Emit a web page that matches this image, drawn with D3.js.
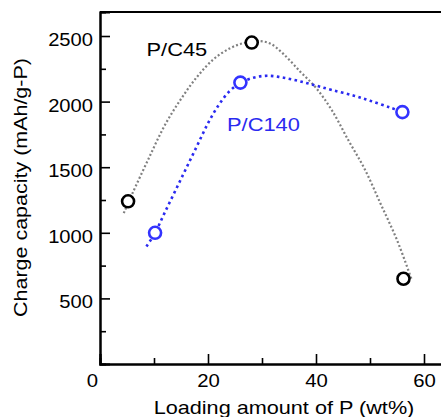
<!DOCTYPE html>
<html><head><meta charset="utf-8">
<script src="https://cdn.jsdelivr.net/npm/d3@7"></script>
<style>
html,body{margin:0;padding:0;background:#fff;}
svg{display:block;}
text{font-family:"Liberation Sans",Arial,sans-serif;}
</style></head>
<body><svg id="chart" width="441" height="417"></svg>
<script>
// ---- data ----
const seriesNames = ["P/C45", "P/C140"];
const pc45X = [5.2, 28.1, 56.2];
const pc45Y = [1240, 2450, 650];
const pc140X = [10.2, 26.0, 56.0];
const pc140Y = [1000, 2145, 1920];
// dotted guide curves
const fit45X = [4.4, 6, 9, 12, 15, 18, 21, 24, 26.5, 29, 31.5, 34, 37, 40, 43, 46, 49, 52, 55, 57.7];
const fit45Y = [1150, 1300, 1565, 1820, 2020, 2190, 2322, 2405, 2445, 2462, 2443, 2362, 2232, 2105, 1930, 1705, 1487, 1218, 945, 645];
const fit140X = [8.6, 10.2, 12, 14, 16, 18, 20, 22, 24, 26, 28.4, 31, 34, 37, 40, 43, 47, 50, 53.7, 56];
const fit140Y = [895, 1000, 1155, 1325, 1495, 1665, 1835, 1975, 2080, 2142, 2182, 2197, 2182, 2155, 2122, 2088, 2045, 2007, 1955, 1921];
const xMajor = [0, 20, 40, 60];
const xMinor = [10, 30, 50];
const yMajor = [500, 1000, 1500, 2000, 2500];
const yMinor = [250, 750, 1250, 1750, 2250];
const xTitle = "Loading amount of P (wt%)";
const yTitle = "Charge capacity (mAh/g-P)";

const svg = d3.select("#chart");
const x = d3.scaleLinear().domain([0, 64]).range([100, 445.6]);
const y = d3.scaleLinear().domain([0, 2683]).range([364, 12]);
const FS = 18.5;

function stretch(sel, k) {
  sel.each(function () {
    const w = this.getComputedTextLength();
    d3.select(this).attr("textLength", w * k).attr("lengthAdjust", "spacingAndGlyphs");
  });
}

// top frame line
svg.append("line").attr("x1", x(0)).attr("x2", 441).attr("y1", y.range()[1]).attr("y2", y.range()[1])
  .attr("stroke", "#000").attr("stroke-width", 2);

// x axis
const gx = svg.append("g").attr("transform", `translate(0,${y(0)})`);
gx.call(d3.axisBottom(x).tickValues(xMajor).tickSize(-10).tickPadding(0).tickFormat(d3.format("d")));
gx.append("g").call(d3.axisBottom(x).tickValues(xMinor).tickSize(-6).tickFormat(""));
gx.selectAll("path.domain").attr("stroke", "#000").attr("stroke-width", 2);
gx.selectAll(".tick line").attr("stroke", "#000").attr("stroke-width", 1.6);
gx.selectAll(".tick text").attr("font-size", FS).attr("fill", "#000")
  .attr("font-family", "Liberation Sans, Arial, sans-serif")
  .attr("y", 22.7).attr("dy", null)
  .attr("dx", d => d === 0 ? -8 : 0)
  .call(stretch, 1.1);

// y axis
const gy = svg.append("g").attr("transform", `translate(${x(0)},0)`);
gy.call(d3.axisLeft(y).tickValues(yMajor).tickSize(-10).tickPadding(7).tickFormat(d3.format("d")));
gy.append("g").call(d3.axisLeft(y).tickValues(yMinor).tickSize(-6).tickFormat(""));
gy.selectAll("path.domain").attr("stroke", "#000").attr("stroke-width", 2);
gy.selectAll(".tick line").attr("stroke", "#000").attr("stroke-width", 1.6);
gy.selectAll(".tick text").attr("font-size", FS).attr("fill", "#000")
  .attr("font-family", "Liberation Sans, Arial, sans-serif")
  .attr("dy", 9.5)
  .call(stretch, 1.09);

// axis titles
svg.append("text").attr("x", 284).attr("y", 414).attr("text-anchor", "middle")
  .attr("font-size", FS).text(xTitle).call(stretch, 1.17);
svg.append("text").attr("transform", "translate(27,187.5) rotate(-90)").attr("text-anchor", "middle")
  .attr("font-size", FS).text(yTitle).call(stretch, 1.16);

// dotted curves
const line = d3.line().x(d => x(d[0])).y(d => y(d[1])).curve(d3.curveCatmullRom.alpha(0.5));
svg.append("path").datum(d3.zip(fit45X, fit45Y)).attr("d", line)
  .attr("fill", "none").attr("stroke", "#808080").attr("stroke-width", 2.2).attr("stroke-dasharray", "2,2.2");
svg.append("path").datum(d3.zip(fit140X, fit140Y)).attr("d", line)
  .attr("fill", "none").attr("stroke", "#2a2af0").attr("stroke-width", 2.6).attr("stroke-dasharray", "2.6,3.4");

// markers
svg.append("g").selectAll("circle").data(d3.zip(pc45X, pc45Y)).join("circle")
  .attr("cx", d => x(d[0])).attr("cy", d => y(d[1])).attr("r", 6)
  .attr("fill", "#fff").attr("stroke", "#000").attr("stroke-width", 2.6);
svg.append("g").selectAll("circle").data(d3.zip(pc140X, pc140Y)).join("circle")
  .attr("cx", d => x(d[0])).attr("cy", d => y(d[1])).attr("r", 6)
  .attr("fill", "#fff").attr("stroke", "#3333ff").attr("stroke-width", 2.6);

// series labels
svg.append("text").attr("x", 146.5).attr("y", 56).attr("font-size", 19).attr("fill", "#000")
  .text(seriesNames[0]).call(stretch, 1.15);
svg.append("text").attr("x", 227).attr("y", 131).attr("font-size", 19).attr("fill", "#2a2af0")
  .text(seriesNames[1]).call(stretch, 1.15);
</script></body></html>
